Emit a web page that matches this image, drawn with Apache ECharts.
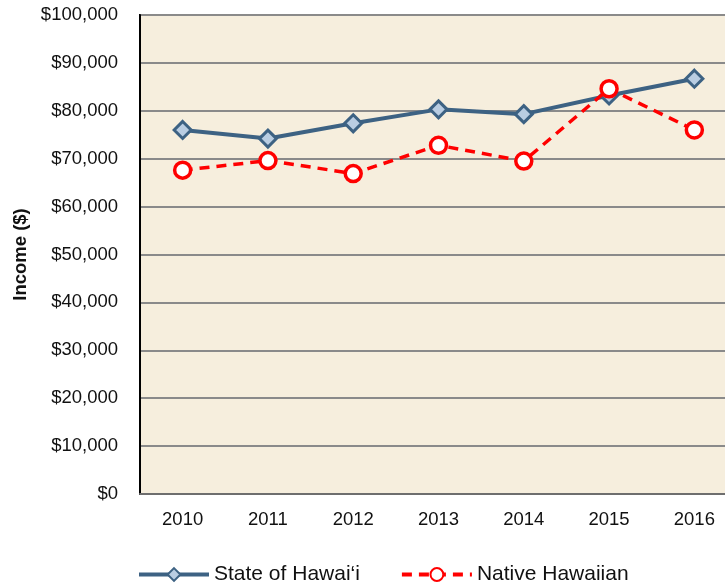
<!DOCTYPE html>
<html>
<head>
<meta charset="utf-8">
<script src="https://cdn.jsdelivr.net/npm/echarts@6/dist/echarts.min.js"></script>
<style>
html, body { margin: 0; padding: 0; background: #fff; overflow: hidden; }
#chart_income { width: 737px; height: 588px; }
</style>
</head>
<body>
<div id="chart_income"></div>
<script>
// 年份
var years = ['2010', '2011', '2012', '2013', '2014', '2015', '2016'];
// 全州收入
var stateIncome = [76000, 74200, 77400, 80300, 79300, 83200, 86700];
// 原住民收入
var nativeIncome = [67600, 69600, 66900, 72800, 69500, 84600, 76000];

var fontFam = '"Liberation Sans", Arial, Helvetica, sans-serif';

var option_income = {
	animation: false,
	textStyle: {
		fontFamily: fontFam
	},
	grid: {
		left: 140,
		top: 15,
		right: 0,
		bottom: 94,
		containLabel: false,
		show: true,
		backgroundColor: '#f6eedd',
		borderColor: '#000',
		borderWidth: 2
	},
	legend: {
		left: 137,
		top: 564,
		padding: 0,
		itemWidth: 70,
		itemHeight: 16,
		itemGap: 40,
		lineStyle: {
			width: 4
		},
		textStyle: {
			fontFamily: fontFam,
			fontSize: 21,
			color: '#111'
		},
		data: ['State of Hawai‘i', 'Native Hawaiian']
	},
	xAxis: {
		type: 'category',
		data: years,
		boundaryGap: true,
		axisLine: {
			lineStyle: {
				color: '#6e6e6e',
				width: 2
			}
		},
		axisTick: {
			show: false
		},
		axisLabel: {
			fontFamily: fontFam,
			fontSize: 18.5,
			color: '#111',
			margin: 16
		}
	},
	yAxis: {
		type: 'value',
		min: 0,
		max: 100000,
		interval: 10000,
		name: 'Income ($)',
		nameLocation: 'middle',
		nameGap: 110,
		nameTextStyle: {
			fontFamily: fontFam,
			fontSize: 18.5,
			fontWeight: 'bold',
			color: '#111'
		},
		axisLine: {
			show: true,
			lineStyle: {
				color: '#000',
				width: 2
			}
		},
		axisTick: {
			show: false
		},
		axisLabel: {
			fontFamily: fontFam,
			fontSize: 18.5,
			color: '#111',
			margin: 22,
			formatter: function(v) {
				return '$' + v.toString().replace(/\B(?=(\d{3})+(?!\d))/g, ',');
			}
		},
		splitLine: {
			lineStyle: {
				color: '#8a8a8a',
				width: 2
			}
		}
	},
	series: [{
		name: 'State of Hawai‘i',
		type: 'line',
		data: stateIncome,
		symbol: 'diamond',
		symbolSize: 17,
		lineStyle: {
			color: '#3d6283',
			width: 4
		},
		itemStyle: {
			color: '#b9cde2',
			borderColor: '#3d6283',
			borderWidth: 3
		},
		z: 2
	}, {
		name: 'Native Hawaiian',
		type: 'line',
		data: nativeIncome,
		symbol: 'circle',
		symbolSize: 16,
		lineStyle: {
			color: '#ff0000',
			width: 3.5,
			type: [10, 7]
		},
		itemStyle: {
			color: '#ffffff',
			borderColor: '#ff0000',
			borderWidth: 3.5
		},
		z: 3
	}]
};

var incomeEchart = echarts.init(document.getElementById('chart_income'));
incomeEchart.setOption(option_income);
</script>
</body>
</html>
